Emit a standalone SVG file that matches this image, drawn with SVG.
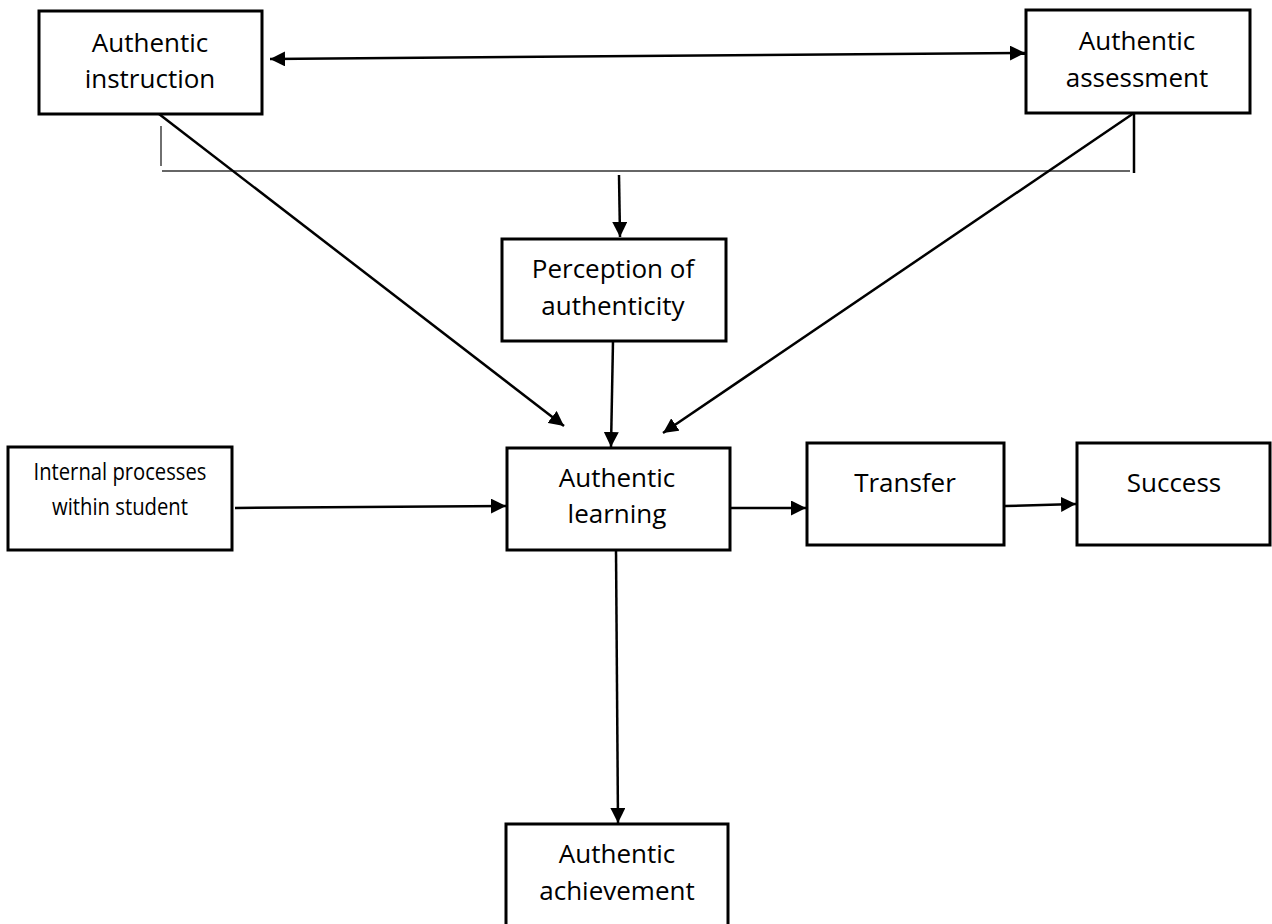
<svg xmlns="http://www.w3.org/2000/svg" width="1272" height="924" viewBox="0 0 1272 924">
  <style>
    .box { fill: #ffffff; stroke: #000000; stroke-width: 3; }
    .label { font-family: "Open Sans", "Noto Sans", "Liberation Sans", sans-serif; font-size: 26px; fill: #000000; text-anchor: middle; }
    .small { font-size: 23px; }
    .conn { fill: none; stroke: #000000; stroke-width: 2.5; }
    .thin { fill: none; stroke: #333333; stroke-width: 1.4; }
  </style>
  <defs>
    <marker id="arrow" markerUnits="userSpaceOnUse" markerWidth="15" markerHeight="15" refX="15" refY="7.5" orient="auto-start-reverse">
      <path d="M0,0 L15,7.5 L0,15 Z" fill="#000000"/>
    </marker>
  </defs>

  <rect width="1272" height="924" fill="#ffffff"/>

  <!-- connectors -->
  <g id="connectors">
    <!-- instruction <-> assessment -->
    <line class="conn" x1="270" y1="59" x2="1025" y2="53" marker-start="url(#arrow)" marker-end="url(#arrow)"/>
    <!-- bracket joining instruction and assessment -->
    <line class="thin" x1="161" y1="126" x2="161" y2="166"/>
    <line class="thin" x1="162" y1="171" x2="1130" y2="171"/>
    <line class="conn" x1="1134" y1="105" x2="1134" y2="173" stroke-width="2"/>
    <!-- bracket to perception -->
    <line class="conn" x1="619" y1="175" x2="620" y2="237" marker-end="url(#arrow)"/>
    <!-- diagonals into learning -->
    <line class="conn" x1="159" y1="114" x2="564" y2="426" marker-end="url(#arrow)"/>
    <line class="conn" x1="1134" y1="113" x2="663" y2="433" marker-end="url(#arrow)"/>
    <!-- perception to learning -->
    <line class="conn" x1="613" y1="341" x2="611" y2="447" marker-end="url(#arrow)"/>
    <!-- internal processes to learning -->
    <line class="conn" x1="235" y1="508" x2="506" y2="506" marker-end="url(#arrow)"/>
    <!-- learning to transfer -->
    <line class="conn" x1="731" y1="508" x2="806" y2="508" marker-end="url(#arrow)"/>
    <!-- transfer to success -->
    <line class="conn" x1="1005" y1="506" x2="1076" y2="504" marker-end="url(#arrow)"/>
    <!-- learning to achievement -->
    <line class="conn" x1="616" y1="550" x2="618" y2="823" marker-end="url(#arrow)"/>
  </g>

  <g id="instruction">
    <rect class="box" x="39" y="11" width="223" height="103"/>
    <text class="label" x="150" y="52">Authentic</text>
    <text class="label" x="150" y="88">instruction</text>
  </g>

  <g id="assessment">
    <rect class="box" x="1026" y="10" width="224" height="103"/>
    <text class="label" x="1137" y="50">Authentic</text>
    <text class="label" x="1137" y="87">assessment</text>
  </g>

  <g id="perception">
    <rect class="box" x="502" y="239" width="224" height="102"/>
    <text class="label" x="613" y="278">Perception of</text>
    <text class="label" x="613" y="315">authenticity</text>
  </g>

  <g id="internal">
    <rect class="box" x="8" y="447" width="224" height="103"/>
    <text class="label small" x="120" y="480" textLength="173" lengthAdjust="spacingAndGlyphs">Internal processes</text>
    <text class="label small" x="120" y="515" textLength="136" lengthAdjust="spacingAndGlyphs">within student</text>
  </g>

  <g id="learning">
    <rect class="box" x="507" y="448" width="223" height="102"/>
    <text class="label" x="617" y="487">Authentic</text>
    <text class="label" x="617" y="523">learning</text>
  </g>

  <g id="transfer">
    <rect class="box" x="807" y="443" width="197" height="102"/>
    <text class="label" x="905" y="492">Transfer</text>
  </g>

  <g id="success">
    <rect class="box" x="1077" y="443" width="193" height="102"/>
    <text class="label" x="1174" y="492">Success</text>
  </g>

  <g id="achievement">
    <rect class="box" x="506" y="824" width="222" height="104"/>
    <text class="label" x="617" y="863">Authentic</text>
    <text class="label" x="617" y="900">achievement</text>
  </g>
</svg>
